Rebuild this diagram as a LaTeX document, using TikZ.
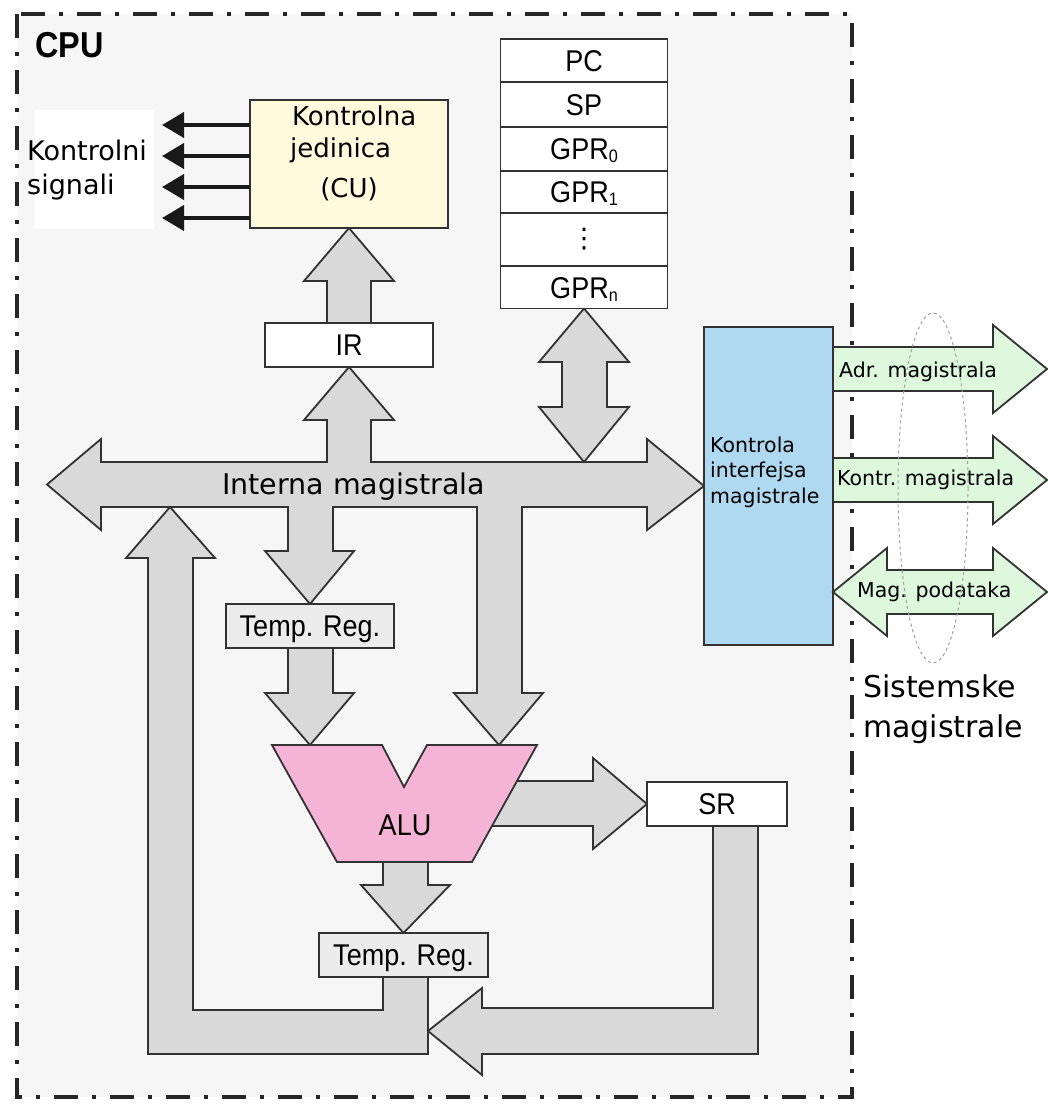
\documentclass[tikz,border=0pt]{standalone}
\usepackage{fontspec}
\setmainfont{DejaVu Sans}
\newfontfamily\regfont[FakeStretch=0.9]{Liberation Sans}
\usetikzlibrary{arrows.meta,calc}

\definecolor{cpubg}{RGB}{246,246,246}
\definecolor{edge}{RGB}{50,50,50}
\definecolor{busgray}{RGB}{217,217,217}
\definecolor{tmpgray}{RGB}{236,236,236}
\definecolor{cuyellow}{RGB}{255,249,222}
\definecolor{alupink}{RGB}{245,179,214}
\definecolor{ifblue}{RGB}{174,217,240}
\definecolor{busgreen}{RGB}{222,248,222}
\definecolor{ellgray}{RGB}{160,160,160}

\newcommand{\fs}[1]{\fontsize{#1}{#1}\selectfont}
\newcommand{\regsub}[1]{\raisebox{-3pt}{\fs{18}#1}}

\pgfdeclarelayer{bg}
\pgfdeclarelayer{flow}
\pgfsetlayers{bg,flow,main}

\begin{document}
\begin{tikzpicture}[x=1pt,y=-1pt,
  blk/.style={draw=edge,line width=1.8pt,fill=busgray,line join=miter},
  gblk/.style={blk,fill=busgreen},
  regbox/.style={draw=edge,line width=1.8pt,fill=white,inner sep=0pt,outer sep=0pt,
    font=\regfont\fs{30},text height=21.5pt,text depth=0pt},
  tmpbox/.style={regbox,fill=tmpgray},
  lbl/.style={inner sep=0pt,anchor=base west},
  sig/.style={line width=4pt,draw=black!90,-{Triangle[length=22pt,width=25pt]}}]

% canvas and CPU area
\begin{pgfonlayer}{bg}
  \fill[white] (0,0) rectangle (1048,1109);
  \fill[cpubg] (17,14) rectangle (852,1097);
  \fill[white] (35,110) rectangle (154,229);
\end{pgfonlayer}

% CPU boundary
\draw[line width=4.5pt,draw=black!85,dash pattern=on 24pt off 14pt on 4pt off 14pt] (17,14) rectangle (852,1097);
\node[lbl,font=\regfont\bfseries\fs{36}] (cpu) at (35,57) {CPU};

% control unit and registers
\node[regbox,fill=cuyellow,minimum width=198pt,minimum height=128pt] (cu) at (349,164) {};
\node[lbl,font=\fs{26}] (cu1) at (292,125) {Kontrolna};
\node[lbl,font=\fs{26}] (cu2) at (290,157) {jedinica};
\node[inner sep=0pt,anchor=base,font=\fs{26}] (cu3) at (349,197) {(CU)};

\node[regbox,minimum width=168pt,minimum height=44pt] (ir) at (349,345) {IR};

\node[regbox,minimum width=167pt,minimum height=43pt] (pc) at (584,60.5) {PC};
\node[regbox,minimum width=167pt,minimum height=45pt] (sp) at (584,104.5) {SP};
\node[regbox,minimum width=167pt,minimum height=44pt] (gpr0) at (584,149) {GPR\regsub{0}};
\node[regbox,minimum width=167pt,minimum height=42pt] (gpr1) at (584,192) {GPR\regsub{1}};
\node[regbox,minimum width=167pt,minimum height=53pt] (gprd) at (584,239.5) {};
\node[inner sep=0pt,font=\fs{27}] (vdots) at (gprd.center) {⋮};
\node[regbox,minimum width=167pt,minimum height=42pt] (gprn) at (584,287.5) {GPR\regsub{n}};

\node[tmpbox,minimum width=168pt,minimum height=44pt] (tr1) at (310,626) {Temp. Reg.};
\node[tmpbox,minimum width=169pt,minimum height=44pt] (tr2) at (403.5,955) {Temp. Reg.};
\node[regbox,minimum width=140pt,minimum height=44pt] (sr) at (717,804) {SR};

% ALU
\draw[draw=edge,line width=1.8pt,fill=alupink,line join=miter]
  (272,745) -- (382,745) -- (404,787) -- (427,745) -- (537,745) -- (472,862) -- (337,862) -- cycle;
\node[inner sep=0pt,font=\regfont\fs{30},text height=21.5pt,text depth=0pt] (alu) at (405,825) {ALU};

% bus interface
\node[regbox,fill=ifblue,minimum width=129pt,minimum height=318pt] (bif) at (768.5,486) {};
\node[lbl,font=\fs{20.5}] (bif1) at (710,452) {Kontrola};
\node[lbl,font=\fs{20.5}] (bif2) at (710,477) {interfejsa};
\node[lbl,font=\fs{20.5}] (bif3) at (710,503) {magistrale};

% block arrows (data paths)
\begin{pgfonlayer}{flow}
  % IR -> CU
  \draw[blk] (327,323) -- (327,281) -- (304,281) -- (cu.south) -- (394,281) -- (371,281) -- (371,323) -- cycle;
  % internal bus with its branches
  \draw[blk] (47,484.5) -- (101,439) -- (101,462) -- (327,462) -- (327,420) -- (304,420) -- (ir.south)
    -- (394,420) -- (371,420) -- (371,462) -- (647,462) -- (647,439) -- (bif.west) -- (647,530)
    -- (647,507) -- (522,507) -- (522,693) -- (543,693) -- (499,745) -- (454,693) -- (477,693)
    -- (477,507) -- (333,507) -- (333,551) -- (354,551) -- (tr1.north) -- (265,551) -- (288,551)
    -- (288,507) -- (101,507) -- (101,530) -- cycle;
  % registers <-> bus
  \draw[blk] (562,362) -- (539,362) -- (gprn.south) -- (629,362) -- (607,362) -- (607,407)
    -- (629,407) -- (584,462) -- (539,407) -- (562,407) -- cycle;
  % Temp. Reg. -> ALU
  \draw[blk] (288,648) -- (288,693) -- (265,693) -- (310,745) -- (354,693) -- (333,693) -- (333,648) -- cycle;
  % ALU -> SR
  \draw[blk] (480,781) -- (593,781) -- (593,758) -- (sr.west) -- (593,849) -- (593,826) -- (480,826) -- cycle;
  % ALU -> Temp. Reg.
  \draw[blk] (383,862) -- (383,885) -- (361,885) -- (tr2.north) -- (450,885) -- (428,885) -- (428,862) -- cycle;
  % result back to the bus
  \draw[blk] (383,977) -- (383,1010) -- (193,1010) -- (193,558) -- (215,558) -- (170,507) -- (126,558)
    -- (148,558) -- (148,1054) -- (428,1054) -- (428,977) -- cycle;
  % SR into the return path
  \draw[blk] (713,826) -- (713,1008) -- (482,1008) -- (482,988) -- (428,1031) -- (482,1075)
    -- (482,1054) -- (758,1054) -- (758,826) -- cycle;
\end{pgfonlayer}

\node[lbl,font=\fs{28.5}] (bus) at (222,494) {Interna magistrala};

% control signals
\node[lbl,font=\fs{27}] (ks1) at (27,160) {Kontrolni};
\node[lbl,font=\fs{27}] (ks2) at (27,194) {signali};
\foreach \n/\y in {s1/125,s2/156,s3/187,s4/218}{
  \coordinate (\n) at (162,\y);
  \draw[sig] (cu.west |- \n) -- (\n);
}

% system buses
\draw[gblk] (bif.east |- 0,347) -- (993,347) -- (993,325) -- (1047,369) -- (993,413) -- (993,391) -- (bif.east |- 0,391) -- cycle;
\draw[gblk] (bif.east |- 0,458) -- (993,458) -- (993,436) -- (1047,480) -- (993,524) -- (993,502) -- (bif.east |- 0,502) -- cycle;
\draw[gblk] (bif.east |- 0,592) -- (887,548) -- (887,570) -- (993,570) -- (993,548) -- (1047,592)
  -- (993,636) -- (993,614) -- (887,614) -- (887,636) -- cycle;
\node[lbl,font=\fs{20.5}] (adr) at (839,377) {Adr. magistrala};
\node[lbl,font=\fs{20.5}] (kmag) at (837,485) {Kontr. magistrala};
\node[lbl,font=\fs{20.5}] (dmag) at (857,597) {Mag. podataka};
\draw[ellgray,line width=1pt,dash pattern=on 3pt off 3pt] (933,488) ellipse [x radius=35pt, y radius=175pt];

\node[lbl,font=\fs{30}] (sys1) at (863,697) {Sistemske};
\node[lbl,font=\fs{30}] (sys2) at (863,737) {magistrale};
\end{tikzpicture}
\end{document}
